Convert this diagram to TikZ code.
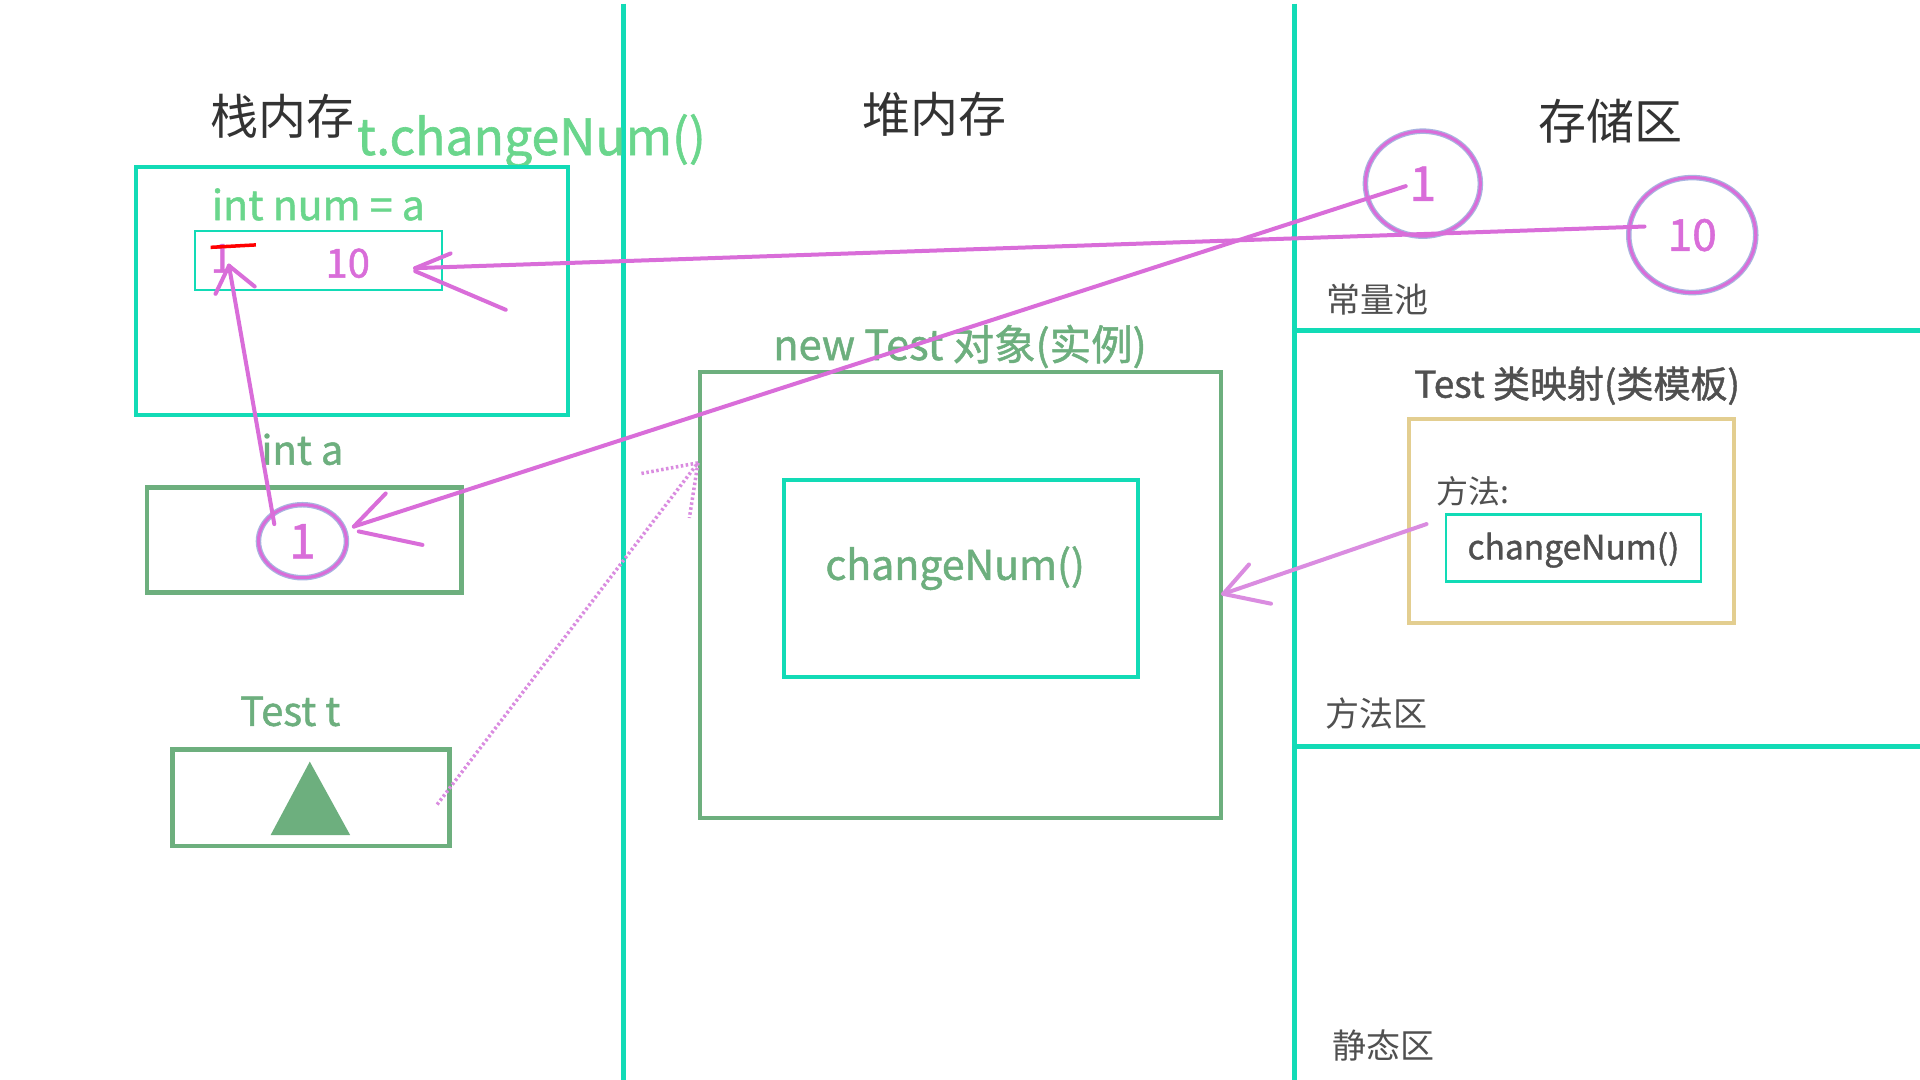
\documentclass[tikz,border=0pt]{standalone}
\usepackage{fontspec}
\setmainfont{Noto Sans CJK SC}
\newfontfamily\heavy[FakeBold=1.2]{Noto Sans CJK SC}
\usetikzlibrary{shapes.geometric}
\definecolor{tealc}{HTML}{12DBB6}
\definecolor{lgreen}{HTML}{6AD68C}
\definecolor{mgreen}{HTML}{6DAF7E}
\definecolor{mag}{HTML}{D96DD9}
\definecolor{magl}{HTML}{DA8CE0}
\definecolor{halo}{HTML}{A8B4E0}
\definecolor{tanc}{HTML}{E3CE90}
\definecolor{dark}{HTML}{333333}
\definecolor{grayc}{HTML}{505050}
\begin{document}
\begin{tikzpicture}[x=1.22449pt,y=-1.22449pt,
  lbl/.style={inner sep=0pt, anchor=center},
  divider/.style={draw=tealc, line width=5pt},
  tealbox/.style={draw=tealc, line width=4pt},
  thinteal/.style={draw=tealc, line width=2pt},
  greenbox/.style={draw=mgreen, line width=4.5pt},
  magline/.style={draw=mag, line width=4pt, line cap=round},
  magsoft/.style={draw=magl, line width=4pt, line cap=round},
  magdot/.style={draw=magl, line width=3.5pt, dash pattern=on 2.5pt off 2.5pt},
  bubble/.style={ellipse, draw=mag, line width=3pt, inner sep=0pt,
     preaction={draw=halo, line width=5.5pt}, text=mag}]
\fill[white] (0,0) rectangle (1568,882);
\useasboundingbox (0,0) rectangle (1568,882);

% dividers
\draw[divider] (509,3) -- (509,882);
\draw[divider] (1057,3) -- (1057,882);
\draw[divider] (1057,270) -- (1568,270);
\draw[divider] (1057,610) -- (1568,610);

% titles
\node[lbl, text=dark, font=\fontsize{48}{50}\selectfont] (tstack) at (231,95) {栈内存};
\node[lbl, text=dark, font=\fontsize{48}{50}\selectfont] (theap) at (763,93) {堆内存};
\node[lbl, text=dark, font=\fontsize{48}{50}\selectfont] (tstore) at (1315,99) {存储区};
\node[lbl, text=lgreen, font=\heavy\fontsize{50}{52}\selectfont] (call) at (434,115) {t.changeNum()};

% stack frame
\draw[tealbox] (111,136) rectangle (464,339);
\node[lbl, text=lgreen, font=\heavy\fontsize{41}{43}\selectfont] (numlbl) at (260,167) {int num = a};
\draw[thinteal] (159,189) rectangle (361,237);
\node[lbl, text=mag, font=\heavy\fontsize{40}{42}\selectfont] (old1) at (181,211) {1};
\node[lbl, text=mag, font=\heavy\fontsize{40}{42}\selectfont] (new10) at (284,215) {10};
\draw[red, line width=3.5pt] (172,202) -- (209,200);

% int a
\node[lbl, text=mgreen, font=\heavy\fontsize{40}{42}\selectfont] (alabel) at (247,367) {int a};
\draw[greenbox] (120,398) rectangle (377,484);
\node[bubble, minimum width=88pt, minimum height=73pt, font=\heavy\fontsize{48}{50}\selectfont] (acirc) at (247,442) {1};

% Test t
\node[lbl, text=mgreen, font=\heavy\fontsize{40}{42}\selectfont] (tlabel) at (237,581) {Test t};
\draw[greenbox] (141,612) rectangle (367,691);
\fill[mgreen] (253,622) -- (286,682) -- (221,682) -- cycle;

% heap object
\node[lbl, text=mgreen, font=\heavy\fontsize{41.5}{44}\selectfont] (objlbl) at (784,283) {new Test 对象(实例)};
\draw[greenbox, line width=4pt] (572,304) rectangle (997,668);
\draw[tealbox] (640,392) rectangle (929,553);
\node[lbl, text=mgreen, font=\heavy\fontsize{41}{43}\selectfont] (hmeth) at (780,464) {changeNum()};

% constant pool
\node[bubble, minimum width=115pt, minimum height=105pt, font=\heavy\fontsize{48}{50}\selectfont] (pool1) at (1162,150) {1};
\node[bubble, minimum width=127pt, minimum height=115pt, font=\heavy\fontsize{44}{46}\selectfont] (pool10) at (1382,192) {10};
\node[lbl, text=grayc, font=\fontsize{34}{36}\selectfont] (cpool) at (1125,245) {常量池};

% method area
\node[lbl, text=grayc, font=\heavy\fontsize{37}{39}\selectfont] (cls) at (1288,315) {Test 类映射(类模板)};
\draw[tanc, line width=4pt] (1151,342) rectangle (1416,509);
\node[lbl, text=grayc, font=\fontsize{32}{34}\selectfont] (mlbl) at (1203,401) {方法:};
\draw[thinteal, line width=2.5pt] (1181,420) rectangle (1389,475);
\node[lbl, text=grayc, font=\heavy\fontsize{33.5}{36}\selectfont] (cmeth) at (1285,449) {changeNum()};
\node[lbl, text=grayc, font=\fontsize{34}{36}\selectfont] (marea) at (1124,583) {方法区};
\node[lbl, text=grayc, font=\fontsize{34}{36}\selectfont] (sarea) at (1130,854) {静态区};

% connector end points
\coordinate (s10) at (1343,185);
\coordinate (tipA) at (339,219);
\coordinate (s1) at (1148,152);
\coordinate (tipB) at (289,430);
\coordinate (sup) at (224,428);
\coordinate (tipC) at (187,217);
\coordinate (sdot) at (357,657);
\coordinate (tipD) at (570,378);
\coordinate (sm) at (1165,428);
\coordinate (tipE) at (999,485);

% 10 -> num
\draw[magline] (s10) -- (tipA);
\draw[magline] (tipA) -- (368,207);
\draw[magline] ([yshift=-3]tipA) -- (413,253);
% 1 -> a
\draw[magline] (s1) -- (tipB);
\draw[magline] (tipB) -- (315,403);
\draw[magline] (293,434) -- (345,445);
% a -> num
\draw[magline] (sup) -- (tipC);
\draw[magline] (tipC) -- (176,240);
\draw[magline] (tipC) -- (208,234);
% t -> object (dotted)
\draw[magdot] (sdot) -- (tipD);
\draw[magdot] (tipD) -- (522,387);
\draw[magdot] (tipD) -- (563,423);
% class method -> object
\draw[magsoft] (sm) -- (tipE);
\draw[magsoft] (tipE) -- (1020,461);
\draw[magsoft] (tipE) -- (1038,493);
\end{tikzpicture}
\end{document}
